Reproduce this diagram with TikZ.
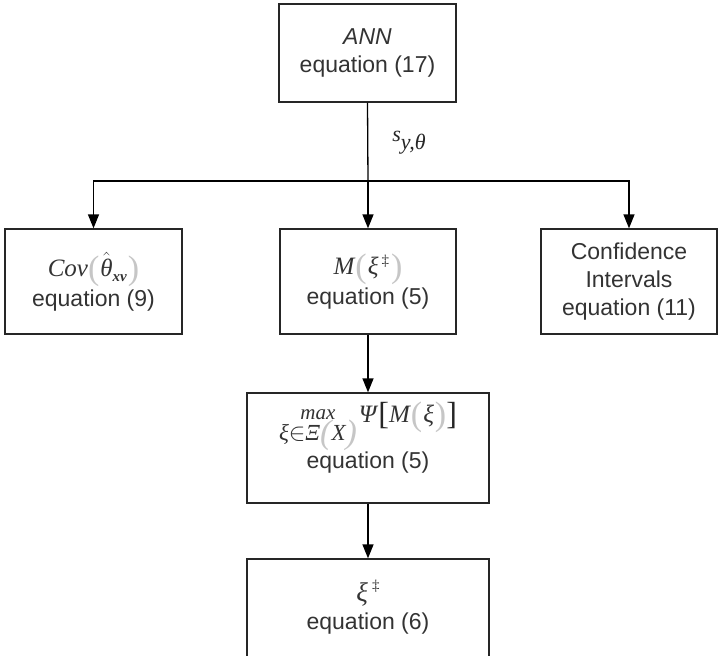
\documentclass[tikz,border=0pt]{standalone}
\usepackage{amsmath}
\usepackage{fontspec}
\usetikzlibrary{arrows.meta}
\setmainfont{Liberation Sans}
\newfontfamily\serifface{Liberation Serif}
% italic serif letters for the formulas
\newcommand{\ms}[1]{{\serifface\itshape\fontsize{25}{25}\selectfont #1}}
% tall light grey delimiters
\newcommand{\gp}[1]{{\color{gray!45}\serifface\fontsize{34}{34}\selectfont\raisebox{-3pt}{#1}}}
\newcommand{\gb}[1]{{\color{black!85}\serifface\fontsize{32}{32}\selectfont\raisebox{-2pt}{#1}}}
\newcommand{\dg}{{\fontsize{15}{15}\selectfont\serifface ‡}}
\begin{document}
\begin{tikzpicture}[x=1pt,y=-1pt,
  box/.style={draw=black!85,line width=1.3pt,rectangle,inner sep=0pt,align=center,
              font=\fontsize{23}{28}\selectfont,text=black!80},
  link/.style={line width=1.3pt,draw=black},
  tip/.style={-{Triangle[width=11pt,length=14pt]}}]
\useasboundingbox (0,0) rectangle (718,656);
\clip (0,0) rectangle (718,656);

% boxes
\node[box,minimum width=177pt,minimum height=98pt] (ann) at (367.5,53)
  {\textit{ANN}\\equation (17)};
\node[box,minimum width=177pt,minimum height=105pt] (cov) at (93.5,281.5)
  {\ms{Cov}\gp{(}\kern1pt$\hat{\text{\ms{θ}}}$\raisebox{-5pt}{\fontsize{15}{15}\selectfont\serifface\bfseries\itshape xv}\kern1pt\gp{)}\\[2pt]equation (9)};
\node[box,minimum width=176pt,minimum height=105pt] (mid) at (368,281.5)
  {\ms{M}\kern1pt\gp{(}\kern1pt\ms{ξ}\kern3pt\raisebox{9pt}{\dg}\kern2pt\gp{)}\\[2pt]equation (5)};
\node[box,minimum width=176pt,minimum height=105pt] (conf) at (629,281.5)
  {Confidence\\Intervals\\equation (11)};
\node[box,minimum width=242pt,minimum height=110pt] (opt) at (368,448)
  {\raisebox{-10pt}{\shortstack{{\serifface\itshape\fontsize{21}{21}\selectfont max}\\[-3pt]
     {\serifface\itshape\fontsize{23}{23}\selectfont ξ$\in$Ξ\gp{(}X\gp{)}}}}%
   \kern2pt\raisebox{8pt}{\ms{Ψ}\kern2pt\gb{[}\ms{M}\kern1pt\gp{(}\kern1pt\ms{ξ}\kern1pt\gp{)}\gb{]}}\\[0pt]
   equation (5)\rule[-26pt]{0pt}{26pt}};
\node[box,minimum width=242pt,minimum height=110pt] (res) at (368,614)
  {{\serifface\itshape\fontsize{27}{27}\selectfont ξ}\kern4pt\raisebox{11pt}{\dg}\\equation (6)\rule[-18pt]{0pt}{18pt}};

% label on the trunk
\node[font=\fontsize{22}{22}\selectfont,text=black!85] (sy) at (409,143)
  {\raisebox{8pt}{\serifface\itshape s}{\serifface\itshape y,θ}};

% connectors
\coordinate (split) at (368,181);
\draw[link] (ann.south) -- (split);
\draw[link,tip] (split) -- (mid.north);
\draw[link,tip] (split) -| (cov.north);
\draw[link,tip] (split) -| (conf.north);
\draw[link,tip] (mid.south) -- (opt.north);
\draw[link,tip] (opt.south) -- (res.north);
\end{tikzpicture}
\end{document}
